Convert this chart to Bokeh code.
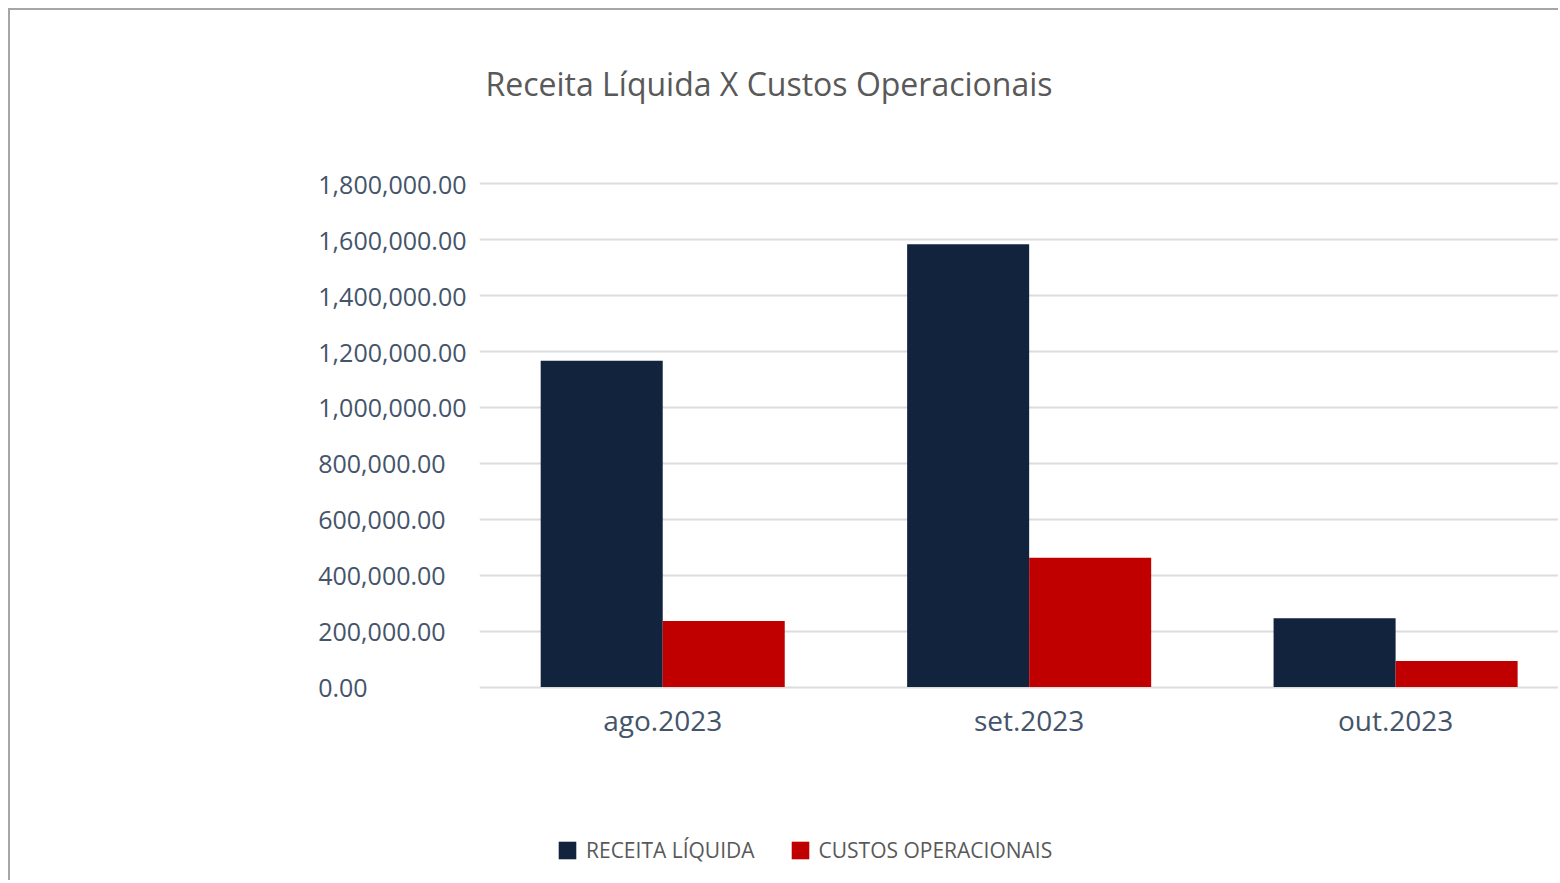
from bokeh.plotting import figure
from bokeh.models import Range1d, Legend, LegendItem, FixedTicker, Title, ColumnDataSource
from bokeh.embed import file_html
from bokeh.resources import INLINE

# ---- data ----
months = ["ago.2023", "set.2023", "out.2023"]
receita_liquida = [1167000, 1584000, 246000]
custos_operacionais = [236000, 462000, 93000]
series_names = ["RECEITA LÍQUIDA", "CUSTOS OPERACIONAIS"]
y_ticks = [0, 200000, 400000, 600000, 800000, 1000000, 1200000, 1400000, 1600000, 1800000]
title_text = "Receita Líquida X Custos Operacionais"

NAVY = "#12233d"
RED = "#c00000"
FONT = "Open Sans"

pos = [i + 0.5 for i in range(len(months))]
bar_w = 0.333
src1 = ColumnDataSource(dict(x=[p_ - bar_w / 2 for p_ in pos], top=receita_liquida))
src2 = ColumnDataSource(dict(x=[p_ + bar_w / 2 for p_ in pos], top=custos_operacionais))

# frame runs to the bottom of the canvas so that the legend (below the
# category labels) is drawn inside it; the value scale keeps 0 at the bars' base
p = figure(width=1550, height=872, output_backend="svg", toolbar_location=None,
           x_range=Range1d(0, 2.95), y_range=Range1d(-699300, 1908400),
           min_border_left=469, min_border_right=0, min_border_top=0, min_border_bottom=0)
p.styles = {"margin-left": "8px", "margin-top": "8px",
            "border-left": "2px solid #a6a6a6", "border-top": "2px solid #a6a6a6"}
p.outline_line_color = None
p.background_fill_color = "white"
p.border_fill_color = "white"

r1 = p.vbar(x="x", top="top", width=bar_w, bottom=0, source=src1, fill_color=NAVY, line_color=None)
r2 = p.vbar(x="x", top="top", width=bar_w, bottom=0, source=src2, fill_color=RED, line_color=None)

# title
t = Title(text=title_text, align="left", offset=6, standoff=98,
          text_font=FONT, text_font_size="32px", text_font_style="normal", text_color="#595959")
p.title = t

# x axis, anchored at value 0
xa = p.xaxis[0]
xa.fixed_location = 0
xa.ticker = FixedTicker(ticks=pos)
xa.major_label_overrides = {p_: m for p_, m in zip(pos, months)}
xa.axis_line_color = None
xa.major_tick_line_color = None
xa.minor_tick_line_color = None
xa.major_label_text_font = FONT
xa.major_label_text_font_size = "28px"
xa.major_label_text_color = "#44546a"
xa.major_label_standoff = 8

# y axis: left-aligned labels via figure/punctuation space padding
def fmt(v):
    return f"{v:,.2f}"
maxlab = fmt(max(y_ticks))
def padded(v):
    s = fmt(v)
    pre = maxlab[: len(maxlab) - len(s)]
    pad = "".join("\u2007" if c.isdigit() else "\u2008" for c in pre)
    return s + pad

ya = p.yaxis[0]
ya.ticker = FixedTicker(ticks=y_ticks)
ya.major_label_overrides = {v: padded(v) for v in y_ticks}
ya.axis_line_color = None
ya.major_tick_line_color = None
ya.minor_tick_line_color = None
ya.major_label_text_font = FONT
ya.major_label_text_font_size = "25px"
ya.major_label_text_color = "#44546a"
ya.major_label_standoff = 7

p.xgrid.grid_line_color = None
p.ygrid.ticker = FixedTicker(ticks=y_ticks)
p.ygrid.grid_line_color = "#dcdcdc"
p.ygrid.grid_line_width = 2

legend = Legend(items=[LegendItem(label=series_names[0], renderers=[r1]),
                       LegendItem(label=series_names[1], renderers=[r2])],
                orientation="horizontal", location=(77, 18),
                glyph_width=22, glyph_height=22, label_standoff=8, spacing=34,
                padding=0, margin=0, border_line_color=None, background_fill_alpha=0,
                label_text_font=FONT, label_text_font_size="21px", label_text_color="#595959",
                label_height=22)
p.add_layout(legend, "center")

open("out.html", "w").write(file_html(p, INLINE))
